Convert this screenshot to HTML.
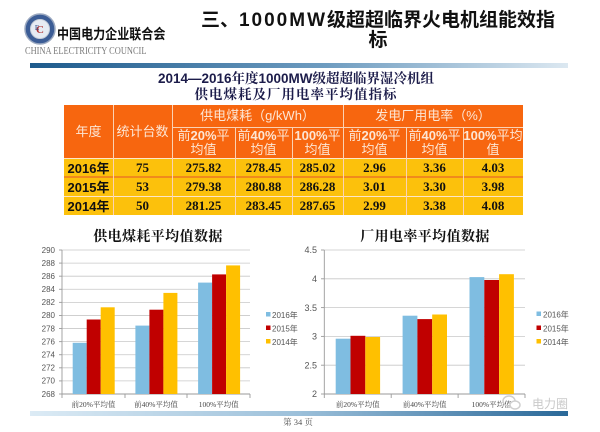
<!DOCTYPE html>
<html><head><meta charset="utf-8">
<style>
html,body{margin:0;padding:0;}
body{width:600px;height:432px;overflow:hidden;background:#fff;position:relative;font-family:"Liberation Sans","Noto Sans CJK SC",sans-serif;}
.a{position:absolute;}
.c{position:absolute;display:flex;align-items:center;justify-content:center;text-align:center;white-space:nowrap;}
.c > div{display:block;text-align:center;}
.h{color:#fde6d4;font-size:13px;line-height:14px;}
.d{font-family:"Liberation Serif","Noto Serif CJK SC",serif;font-weight:bold;font-size:13px;color:#111;}
.y{font-family:"Liberation Sans","Noto Sans CJK SC",sans-serif;font-weight:bold;font-size:13px;color:#111;}
.vl{position:absolute;width:1px;background:#fbd2b4;}
</style></head><body>

<svg class="a" style="left:0;top:0" width="600" height="432">
  <defs>
    <linearGradient id="hg" x1="0" x2="1" y1="0" y2="0">
      <stop offset="0" stop-color="#1d5a8c"/>
      <stop offset="0.55" stop-color="#6e9cc0"/>
      <stop offset="1" stop-color="#dce8f1"/>
    </linearGradient>
    <linearGradient id="bg" x1="0" x2="1" y1="0" y2="0">
      <stop offset="0" stop-color="#dcebf5"/>
      <stop offset="0.5" stop-color="#9cc0da"/>
      <stop offset="1" stop-color="#2a6898"/>
    </linearGradient>
  </defs>
  <circle cx="40" cy="29" r="15" fill="#3c5d96" stroke="#9aa8c0" stroke-width="1.5"/>
  <circle cx="40" cy="29" r="9.5" fill="#e6ebf3" stroke="#c7ced9" stroke-width="1"/>
  <text x="40" y="33" text-anchor="middle" font-family="Liberation Serif,serif" font-size="11" font-weight="bold" fill="#b03030">C</text>
  <text x="37" y="30" text-anchor="middle" font-family="Liberation Serif,serif" font-size="7" fill="#2a4a8a">E</text>
  <rect x="30" y="63" width="538" height="5" fill="url(#hg)"/>
  <rect x="30" y="411" width="538" height="5" fill="url(#bg)"/>

  <!-- LEFT CHART -->
  <g stroke="#c8c8c8" stroke-width="0.8">
    <line x1="62" x2="250" y1="250" y2="250"/>
    <line x1="62" x2="250" y1="263.09" y2="263.09"/>
    <line x1="62" x2="250" y1="276.18" y2="276.18"/>
    <line x1="62" x2="250" y1="289.27" y2="289.27"/>
    <line x1="62" x2="250" y1="302.36" y2="302.36"/>
    <line x1="62" x2="250" y1="315.45" y2="315.45"/>
    <line x1="62" x2="250" y1="328.55" y2="328.55"/>
    <line x1="62" x2="250" y1="341.64" y2="341.64"/>
    <line x1="62" x2="250" y1="354.73" y2="354.73"/>
    <line x1="62" x2="250" y1="367.82" y2="367.82"/>
    <line x1="62" x2="250" y1="380.91" y2="380.91"/>
  </g>
  <g stroke="#9a9a9a" stroke-width="0.9">
    <line x1="62" x2="62" y1="250" y2="394"/>
    <line x1="62" x2="250" y1="394" y2="394"/>
    <line x1="59" x2="62" y1="250" y2="250"/><line x1="59" x2="62" y1="263.09" y2="263.09"/>
    <line x1="59" x2="62" y1="276.18" y2="276.18"/><line x1="59" x2="62" y1="289.27" y2="289.27"/>
    <line x1="59" x2="62" y1="302.36" y2="302.36"/><line x1="59" x2="62" y1="315.45" y2="315.45"/>
    <line x1="59" x2="62" y1="328.55" y2="328.55"/><line x1="59" x2="62" y1="341.64" y2="341.64"/>
    <line x1="59" x2="62" y1="354.73" y2="354.73"/><line x1="59" x2="62" y1="367.82" y2="367.82"/>
    <line x1="59" x2="62" y1="380.91" y2="380.91"/><line x1="59" x2="62" y1="394" y2="394"/>
    <line x1="62" x2="62" y1="394" y2="398"/><line x1="125" x2="125" y1="394" y2="398"/>
    <line x1="187" x2="187" y1="394" y2="398"/><line x1="250" x2="250" y1="394" y2="398"/>
  </g>
  <g font-family="Liberation Sans,sans-serif" font-size="8" fill="#555" text-anchor="end">
    <text x="55" y="253">290</text><text x="55" y="266">288</text><text x="55" y="279">286</text>
    <text x="55" y="292">284</text><text x="55" y="305">282</text><text x="55" y="318">280</text>
    <text x="55" y="331.5">278</text><text x="55" y="344.5">276</text><text x="55" y="357.5">274</text>
    <text x="55" y="370.5">272</text><text x="55" y="383.5">270</text><text x="55" y="397">268</text>
  </g>
  <rect x="72.7" y="342.8" width="14" height="51.2" fill="#7fbde1"/>
  <rect x="86.7" y="319.5" width="14" height="74.5" fill="#c00000"/>
  <rect x="100.7" y="307.3" width="14" height="86.7" fill="#ffc000"/>
  <rect x="135.4" y="325.6" width="14" height="68.4" fill="#7fbde1"/>
  <rect x="149.4" y="309.7" width="14" height="84.3" fill="#c00000"/>
  <rect x="163.4" y="292.9" width="14" height="101.1" fill="#ffc000"/>
  <rect x="198.1" y="282.6" width="14" height="111.4" fill="#7fbde1"/>
  <rect x="212.1" y="274.4" width="14" height="119.6" fill="#c00000"/>
  <rect x="226.1" y="265.4" width="14" height="128.6" fill="#ffc000"/>
  <g font-family="Liberation Serif,Noto Serif CJK SC,serif" font-size="7.5" fill="#444" text-anchor="middle">
    <text x="93.5" y="407">前20%平均值</text>
    <text x="156" y="407">前40%平均值</text>
    <text x="218.7" y="407">100%平均值</text>
  </g>
  <text x="158" y="241" text-anchor="middle" font-family="Noto Serif CJK SC,serif" font-weight="bold" font-size="14" letter-spacing="0.4" fill="#111">供电煤耗平均值数据</text>
  <rect x="266" y="312" width="4.5" height="4.5" fill="#7fbde1"/>
  <rect x="266" y="325.5" width="4.5" height="4.5" fill="#c00000"/>
  <rect x="266" y="339" width="4.5" height="4.5" fill="#ffc000"/>
  <g font-family="Liberation Sans,Noto Sans CJK SC,sans-serif" font-size="8" fill="#555">
    <text x="272" y="318">2016年</text><text x="272" y="331.5">2015年</text><text x="272" y="345">2014年</text>
  </g>

  <!-- RIGHT CHART -->
  <g stroke="#c8c8c8" stroke-width="0.8">
    <line x1="324.3" x2="525" y1="250" y2="250"/>
    <line x1="324.3" x2="525" y1="278.8" y2="278.8"/>
    <line x1="324.3" x2="525" y1="307.6" y2="307.6"/>
    <line x1="324.3" x2="525" y1="336.4" y2="336.4"/>
    <line x1="324.3" x2="525" y1="365.2" y2="365.2"/>
  </g>
  <g stroke="#9a9a9a" stroke-width="0.9">
    <line x1="324.3" x2="324.3" y1="250" y2="394"/>
    <line x1="324.3" x2="525" y1="394" y2="394"/>
    <line x1="321" x2="324.3" y1="250" y2="250"/><line x1="321" x2="324.3" y1="278.8" y2="278.8"/>
    <line x1="321" x2="324.3" y1="307.6" y2="307.6"/><line x1="321" x2="324.3" y1="336.4" y2="336.4"/>
    <line x1="321" x2="324.3" y1="365.2" y2="365.2"/><line x1="321" x2="324.3" y1="394" y2="394"/>
    <line x1="324.3" x2="324.3" y1="394" y2="398"/><line x1="391.2" x2="391.2" y1="394" y2="398"/>
    <line x1="458.1" x2="458.1" y1="394" y2="398"/><line x1="525" x2="525" y1="394" y2="398"/>
  </g>
  <g font-family="Liberation Sans,sans-serif" font-size="9" fill="#555" text-anchor="end">
    <text x="317" y="253">4.5</text><text x="317" y="282">4</text><text x="317" y="311">3.5</text>
    <text x="317" y="339.5">3</text><text x="317" y="368.5">2.5</text><text x="317" y="397">2</text>
  </g>
  <rect x="335.7" y="338.7" width="14.8" height="55.3" fill="#7fbde1"/>
  <rect x="350.5" y="335.8" width="14.8" height="58.2" fill="#c00000"/>
  <rect x="365.3" y="337.0" width="14.8" height="57" fill="#ffc000"/>
  <rect x="402.6" y="315.7" width="14.8" height="78.3" fill="#7fbde1"/>
  <rect x="417.4" y="319.1" width="14.8" height="74.9" fill="#c00000"/>
  <rect x="432.2" y="314.5" width="14.8" height="79.5" fill="#ffc000"/>
  <rect x="469.5" y="277.1" width="14.8" height="116.9" fill="#7fbde1"/>
  <rect x="484.3" y="280.0" width="14.8" height="114" fill="#c00000"/>
  <rect x="499.1" y="274.2" width="14.8" height="119.8" fill="#ffc000"/>
  <g font-family="Liberation Serif,Noto Serif CJK SC,serif" font-size="7.5" fill="#444" text-anchor="middle">
    <text x="357.8" y="407">前20%平均值</text>
    <text x="424.7" y="407">前40%平均值</text>
    <text x="491.6" y="407">100%平均值</text>
  </g>
  <text x="425" y="241" text-anchor="middle" font-family="Noto Serif CJK SC,serif" font-weight="bold" font-size="14" letter-spacing="0.4" fill="#111">厂用电率平均值数据</text>
  <rect x="536.5" y="311.5" width="4.5" height="4.5" fill="#7fbde1"/>
  <rect x="536.5" y="325.5" width="4.5" height="4.5" fill="#c00000"/>
  <rect x="536.5" y="339" width="4.5" height="4.5" fill="#ffc000"/>
  <g font-family="Liberation Sans,Noto Sans CJK SC,sans-serif" font-size="8" fill="#555">
    <text x="543" y="317.5">2016年</text><text x="543" y="331.5">2015年</text><text x="543" y="345">2014年</text>
  </g>

  <ellipse cx="509" cy="401" rx="6" ry="5" fill="none" stroke="#cfcfcf" stroke-width="1.5"/>
  <ellipse cx="515" cy="405" rx="5" ry="4" fill="#fff" stroke="#cfcfcf" stroke-width="1.5"/>
  <text x="532" y="408" font-family="Noto Sans CJK SC,sans-serif" font-size="12" fill="#c9c9c9">电力圈</text>

  <text x="298" y="425" text-anchor="middle" font-family="Liberation Serif,Noto Serif CJK SC,serif" font-size="8.5" fill="#555">第 34 页</text>
</svg>

<div class="a" style="left:57px;top:26px;font-family:'Noto Sans CJK SC',sans-serif;font-weight:bold;font-size:14px;line-height:16px;color:#111;transform:scaleX(0.86);transform-origin:0 0;white-space:nowrap;">中国电力企业联合会</div>
<div class="a" style="left:25px;top:46px;font-family:'Liberation Serif',serif;font-size:10.5px;line-height:12px;color:#7a7a7a;transform:scaleX(0.8);transform-origin:0 0;white-space:nowrap;">CHINA ELECTRICITY COUNCIL</div>

<div class="a" style="left:178px;top:11px;width:400px;text-align:center;font-family:'Liberation Sans','Noto Sans CJK SC',sans-serif;font-weight:bold;font-size:19px;line-height:20px;color:#111;white-space:nowrap;">三、<span style="letter-spacing:2px">1000MW</span>级超超临界火电机组能效指<br>标</div>

<div class="a" style="left:96px;top:69px;width:400px;text-align:center;font-family:'Liberation Sans','Noto Serif CJK SC',serif;font-weight:bold;font-size:13.5px;line-height:16px;color:#1c1c4a;white-space:nowrap;">2014—2016<span style="font-family:'Noto Serif CJK SC',serif">年度</span>1000MW<span style="font-family:'Noto Serif CJK SC',serif">级超超临界湿冷机组</span></div>
<div class="a" style="left:96px;top:85px;width:400px;text-align:center;font-family:'Noto Serif CJK SC',serif;font-weight:bold;font-size:13.5px;letter-spacing:1px;line-height:16px;color:#1c1c4a;white-space:nowrap;">供电煤耗及厂用电率平均值指标</div>

<div class="a" style="left:64px;top:105px;width:459px;height:53px;background:#f7660f;"></div>
<div class="a" style="left:64px;top:158px;width:459px;height:57px;background:#fcc10c;"></div>
<div class="a" style="left:172px;top:127px;width:351px;height:1px;background:#fbd2b4;"></div>
<div class="a" style="left:64px;top:158px;width:459px;height:1px;background:#fde6c8;"></div>
<div class="a" style="left:64px;top:176px;width:459px;height:2px;background:#f08a1c;"></div>
<div class="a" style="left:64px;top:196px;width:459px;height:1px;background:#fde6c8;"></div>
<div class="vl" style="left:113px;top:105px;height:110px;"></div>
<div class="vl" style="left:172px;top:105px;height:110px;"></div>
<div class="vl" style="left:343px;top:105px;height:110px;"></div>
<div class="vl" style="left:235px;top:127px;height:88px;"></div>
<div class="vl" style="left:292px;top:127px;height:88px;"></div>
<div class="vl" style="left:406px;top:127px;height:88px;"></div>
<div class="vl" style="left:463px;top:127px;height:88px;"></div>

<div class="c h" style="left:64px;top:105px;width:49px;height:53px;"><div>年度</div></div>
<div class="c h" style="left:113px;top:105px;width:59px;height:53px;"><div>统计台数</div></div>
<div class="c h" style="left:172px;top:105px;width:171px;height:22px;"><div>供电煤耗（g/kWh）</div></div>
<div class="c h" style="left:343px;top:105px;width:180px;height:22px;"><div>发电厂用电率（%）</div></div>
<div class="c h" style="left:172px;top:128px;width:63px;height:30px;"><div>前<b>20%</b>平<br>均值</div></div>
<div class="c h" style="left:235px;top:128px;width:57px;height:30px;"><div>前<b>40%</b>平<br>均值</div></div>
<div class="c h" style="left:292px;top:128px;width:51px;height:30px;"><div><b>100%</b>平<br>均值</div></div>
<div class="c h" style="left:343px;top:128px;width:63px;height:30px;"><div>前<b>20%</b>平<br>均值</div></div>
<div class="c h" style="left:406px;top:128px;width:57px;height:30px;"><div>前<b>40%</b>平<br>均值</div></div>
<div class="c h" style="left:463px;top:128px;width:60px;height:30px;"><div><b>100%</b>平均<br>值</div></div>

<div class="c y" style="left:64px;top:158px;width:49px;height:19px;">2016年</div>
<div class="c d" style="left:113px;top:158px;width:59px;height:19px;">75</div>
<div class="c d" style="left:172px;top:158px;width:63px;height:19px;">275.82</div>
<div class="c d" style="left:235px;top:158px;width:57px;height:19px;">278.45</div>
<div class="c d" style="left:292px;top:158px;width:51px;height:19px;">285.02</div>
<div class="c d" style="left:343px;top:158px;width:63px;height:19px;">2.96</div>
<div class="c d" style="left:406px;top:158px;width:57px;height:19px;">3.36</div>
<div class="c d" style="left:463px;top:158px;width:60px;height:19px;">4.03</div>

<div class="c y" style="left:64px;top:177px;width:49px;height:19px;">2015年</div>
<div class="c d" style="left:113px;top:177px;width:59px;height:19px;">53</div>
<div class="c d" style="left:172px;top:177px;width:63px;height:19px;">279.38</div>
<div class="c d" style="left:235px;top:177px;width:57px;height:19px;">280.88</div>
<div class="c d" style="left:292px;top:177px;width:51px;height:19px;">286.28</div>
<div class="c d" style="left:343px;top:177px;width:63px;height:19px;">3.01</div>
<div class="c d" style="left:406px;top:177px;width:57px;height:19px;">3.30</div>
<div class="c d" style="left:463px;top:177px;width:60px;height:19px;">3.98</div>

<div class="c y" style="left:64px;top:196px;width:49px;height:19px;">2014年</div>
<div class="c d" style="left:113px;top:196px;width:59px;height:19px;">50</div>
<div class="c d" style="left:172px;top:196px;width:63px;height:19px;">281.25</div>
<div class="c d" style="left:235px;top:196px;width:57px;height:19px;">283.45</div>
<div class="c d" style="left:292px;top:196px;width:51px;height:19px;">287.65</div>
<div class="c d" style="left:343px;top:196px;width:63px;height:19px;">2.99</div>
<div class="c d" style="left:406px;top:196px;width:57px;height:19px;">3.38</div>
<div class="c d" style="left:463px;top:196px;width:60px;height:19px;">4.08</div>

</body></html>
